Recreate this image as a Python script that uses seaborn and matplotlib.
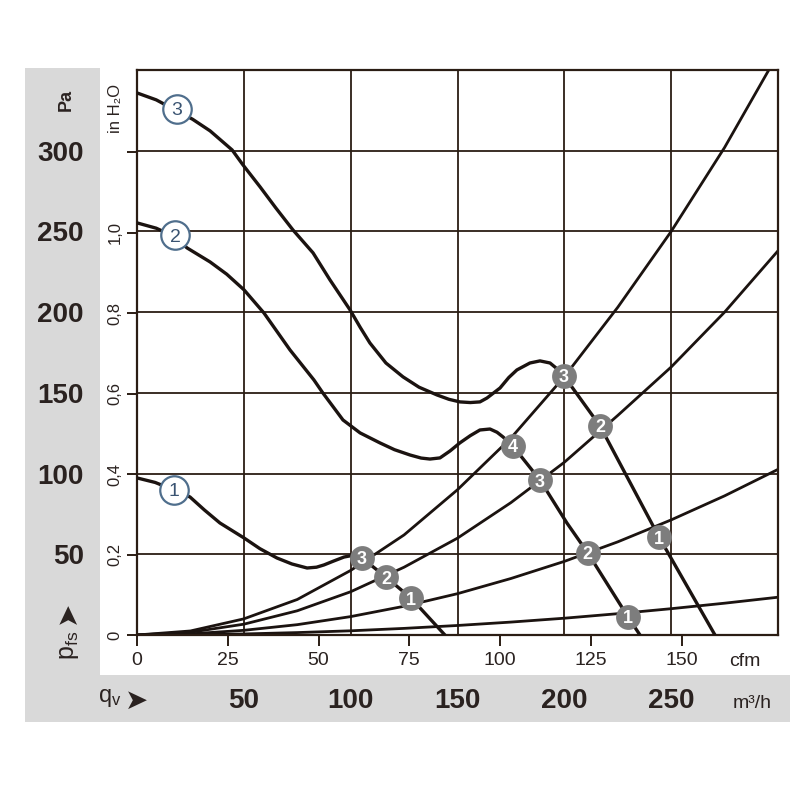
import numpy as np
import pandas as pd
import seaborn as sns
import matplotlib
matplotlib.use("Agg")
import matplotlib.pyplot as plt
from matplotlib import font_manager
from matplotlib.patches import Rectangle
import matplotlib.transforms as mtransforms

# ---------------- data (x: m³/h, y: Pa) ----------------
curve1_q = [0, 8.5, 17.3, 24.8, 31.5, 38.8, 50.1, 57.5, 65.5, 72.5, 79.6, 84.0, 87.5, 92.0, 96.9, 102.0, 105.3, 116.5, 128.2, 144.1]
curve1_p = [97.3, 94.5, 89.8, 85.5, 77.5, 69.4, 60.1, 53.5, 47.7, 44.0, 41.5, 42.0, 43.4, 45.8, 48.3, 49.6, 47.7, 35.9, 22.9, 0]

curve2_q = [0, 9.0, 17.8, 23.4, 34.2, 42.0, 50.1, 59.4, 71.6, 82.8, 87.0, 96.4, 104.4, 113.7, 120.5, 127.8, 133.0, 137.1,
            141.8, 146.5, 151.1, 156.0, 160.5, 165.2, 168.5, 171.3, 175.9, 188.6, 201.2, 211.0, 229.8, 235.4]
curve2_p = [255.3, 252.0, 246.6, 239.8, 231.1, 223.5, 213.8, 199.5, 176.6, 158.0, 149.9, 133.2, 125.2, 119.0, 114.8, 111.5, 109.6, 109.0,
            109.7, 114.0, 119.0, 123.5, 127.0, 127.6, 125.6, 122.7, 117.1, 96.0, 69.4, 50.8, 11.2, 0]

curve3_q = [0, 9.0, 17.8, 26.0, 34.2, 44.5, 49.6, 57.6, 65.0, 73.0, 82.4, 90.3, 99.7, 104.5, 109.0, 116.5, 124.5, 132.0, 140.4, 146.0, 151.1, 156.0, 160.5,
            163.8, 169.9, 174.0, 177.8, 183.9, 188.6, 193.3, 196.5, 199.8, 216.7, 244.3, 270.5]
curve3_p = [335.8, 331.5, 325.3, 319.5, 312.3, 300.5, 291.2, 277.6, 264.5, 250.9, 236.7, 220.0, 201.4, 190.5, 180.9, 168.5, 159.9, 153.5, 148.7, 146.0, 144.4, 144.0, 144.4,
            146.8, 153.0, 159.5, 164.2, 168.5, 169.8, 168.5, 165.0, 160.5, 129.5, 60.7, 0]

# system (resistance) curves, read every 25 m³/h
sys_q = [0, 25, 50, 75, 100, 125, 150, 175, 200, 225, 250, 275, 300]
sysA_p = [0, 2.5, 10, 22, 40, 62, 90, 122, 160, 203, 250, 302, 360]
sysB_p = [0, 1.7, 6.7, 15, 26.8, 42, 60, 82, 107, 136, 166, 200, 238]
sysC_p = [0, 0.7, 2.9, 6.4, 11.4, 17.8, 25.6, 35, 45.6, 57.7, 71.3, 86.2, 102.6]
sysD_p = [0, 0.16, 0.65, 1.5, 2.6, 4.1, 5.9, 8.0, 10.4, 13.2, 16.3, 19.7, 23.4]

# operating point markers
op_q = [105.3, 116.5, 128.2, 175.9, 188.6, 211.0, 229.8, 199.8, 216.7, 244.3]
op_p = [47.7, 35.9, 22.9, 117.1, 96.0, 50.8, 11.2, 160.5, 129.5, 60.7]
op_lbl = ["3", "2", "1", "4", "3", "2", "1", "3", "2", "1"]

# curve labels
cl_q = [17.3, 17.8, 18.5]
cl_p = [90.0, 247.5, 326.0]
cl_lbl = ["1", "2", "3"]

# axes / ticks
pa_ticks = [50, 100, 150, 200, 250, 300]
pa_labels = ["50", "100", "150", "200", "250", "300"]
inh2o_vals = [0, 0.2, 0.4, 0.6, 0.8, 1.0, 1.2]
inh2o_labels = ["0", "0,2", "0,4", "0,6", "0,8", "1,0", ""]
cfm_vals = [0, 25, 50, 75, 100, 125, 150]
cfm_labels = ["0", "25", "50", "75", "100", "125", "150"]
m3h_vals = [50, 100, 150, 200, 250]
m3h_labels = ["50", "100", "150", "200", "250"]
grid_q = [50, 100, 150, 200, 250]
grid_p = [50, 100, 150, 200, 250, 300]

# ---------------- style ----------------
sns.set_theme(style="white")
names = {f.name for f in font_manager.fontManager.ttflist}
narrow = "Liberation Sans Narrow" if "Liberation Sans Narrow" in names else "Liberation Sans"
plt.rcParams["font.family"] = [narrow, "DejaVu Sans"]
plt.rcParams["mathtext.fontset"] = "custom"
plt.rcParams["mathtext.rm"] = narrow
plt.rcParams["mathtext.it"] = narrow

LINE = "#1b1310"
GRID = "#2b1d14"
GRAY_BG = "#d9d9d9"
MK = "#7d7d7d"
EDGE = "#4f6e8c"
LBL = "#3a5472"
TXT = "#2a2220"

W, H = 800, 800
fig = plt.figure(figsize=(8, 8), dpi=100)
fig.patch.set_facecolor("white")

def fx(px):
    return px / W

def fy(py):
    return 1 - py / H

# background panels
fig.add_artist(Rectangle((fx(25), fy(722)), fx(790) - fx(25), fy(68) - fy(722),
                         transform=fig.transFigure, facecolor=GRAY_BG, edgecolor="none", zorder=0))
fig.add_artist(Rectangle((fx(100), fy(675)), fx(790) - fx(100), fy(68) - fy(675),
                         transform=fig.transFigure, facecolor="white", edgecolor="none", zorder=0))

L, R, T, B = 137, 778, 70, 635
ax = fig.add_axes([fx(L), fy(B), (R - L) / W, (B - T) / H])
ax.set_facecolor("white")
ax.set_xlim(0, 300)
ax.set_ylim(0, 350)

for q in grid_q:
    ax.axvline(q, color=GRID, lw=1.3, zorder=1)
for p in grid_p:
    ax.axhline(p, color=GRID, lw=1.3, zorder=1)

for pvals in [sysA_p, sysB_p, sysC_p, sysD_p]:
    sns.lineplot(x=sys_q, y=pvals, ax=ax, color=LINE, lw=2.0, sort=False, estimator=None, zorder=2)

for qv, pv in [(curve1_q, curve1_p), (curve2_q, curve2_p), (curve3_q, curve3_p)]:
    sns.lineplot(x=qv, y=pv, ax=ax, color=LINE, lw=2.4, sort=False, estimator=None, zorder=3)
for l in ax.lines:
    l.set_solid_joinstyle("round")
    l.set_solid_capstyle("round")

sns.scatterplot(x=op_q, y=op_p, ax=ax, s=320, color=MK, edgecolor=MK, linewidth=0, zorder=5)
for q, p, t in zip(op_q, op_p, op_lbl):
    ax.text(q, p, t, ha="center", va="center_baseline", color="white", fontsize=13,
            fontweight="bold", zorder=6)

sns.scatterplot(x=cl_q, y=cl_p, ax=ax, s=420, color="white", edgecolor=EDGE, linewidth=1.6, zorder=5)
for q, p, t in zip(cl_q, cl_p, cl_lbl):
    ax.text(q, p, t, ha="center", va="center_baseline", color=LBL, fontsize=14, zorder=6)

for s in ax.spines.values():
    s.set_color(GRID)
    s.set_linewidth(1.6)
    s.set_visible(True)

# y ticks: Pa labels far left, bold
ax.set_yticks(pa_ticks)
ax.set_yticklabels(pa_labels, fontsize=20, fontweight="bold", color=TXT)
ax.tick_params(axis="y", length=0, pad=(L - 84) * 0.72)

# inH2O minor ticks on left
inh2o_pa = [v * 249.09 for v in inh2o_vals]
ax.set_yticks(inh2o_pa, minor=True)
ax.tick_params(axis="y", which="minor", length=7, width=1.4, color=GRID, direction="out", left=True)
btf = mtransforms.blended_transform_factory(ax.transAxes, ax.transData)
for p, t in zip(inh2o_pa, inh2o_labels):
    if t:
        ax.text((115 - L) / (R - L), p, t, transform=btf, rotation=90, ha="center", va="center",
                fontsize=12, color=TXT)
fig.text(fx(116), fy(108), "in H\u2082O", rotation=90, ha="center", va="center", fontsize=12, color=TXT)
fig.text(fx(66), fy(100), "Pa", rotation=90, ha="center", va="center", fontsize=13,
         fontweight="bold", color=TXT)
fig.text(fx(69), fy(645), "p$_{\\mathregular{fs}}$", rotation=90, ha="center", va="center",
         fontsize=18, color=TXT)
fig.text(fx(67), fy(612), "\u27a4", rotation=90, ha="center", va="center",
         fontsize=20, color=TXT, family="DejaVu Sans")

# x ticks: cfm
ax.set_xticks([c * 1.699 for c in cfm_vals])
ax.set_xticklabels(cfm_labels, fontsize=14, color=TXT)
ax.tick_params(axis="x", length=8, width=1.4, color=GRID, direction="out", bottom=True, pad=4)
fig.text(fx(745), fy(661), "cfm", ha="center", va="center", fontsize=14, color=TXT)

btx = mtransforms.blended_transform_factory(ax.transData, ax.transAxes)
for q, t in zip(m3h_vals, m3h_labels):
    ax.text(q, (B - 701) / (B - T), t, transform=btx, ha="center", va="center", fontsize=20,
            fontweight="bold", color=TXT)
fig.text(fx(752), fy(703), "m\u00b3/h", ha="center", va="center", fontsize=14, color=TXT)
fig.text(fx(110), fy(698), "q$_{\\mathregular{v}}$", ha="center", va="center", fontsize=17, color=TXT)
fig.text(fx(137), fy(701), "\u27a4", ha="center", va="center", fontsize=20, color=TXT, family="DejaVu Sans")

ax.set_xlabel("")
ax.set_ylabel("")

fig.savefig("out.png", dpi=100, facecolor="white")
